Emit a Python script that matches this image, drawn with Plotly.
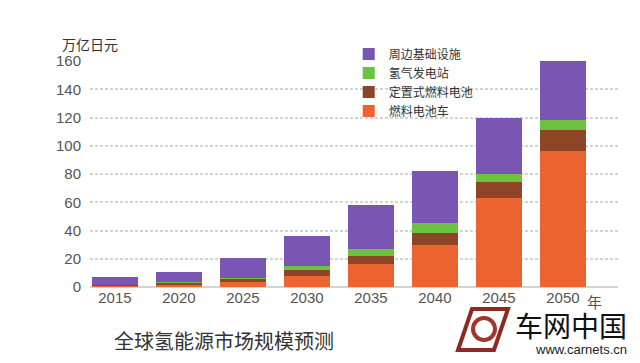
import plotly.graph_objects as go

years = ["2015", "2020", "2025", "2030", "2035", "2040", "2045", "2050"]
fc_vehicle = [1.0, 1.5, 3.5, 8, 16, 30, 63, 96]        # 燃料电池车
stationary_fc = [0.5, 1.5, 2.5, 4, 6, 8, 11, 15]         # 定置式燃料电池
h2_power = [0.2, 0.3, 0.5, 3, 5, 7, 6, 7]               # 氢气发电站
infra = [5.3, 7.5, 14, 21, 31, 37, 40, 42]               # 周边基础设施

series = [
    ("燃料电池车", fc_vehicle, "#EC6430"),
    ("定置式燃料电池", stationary_fc, "#8E4426"),
    ("氢气发电站", h2_power, "#6DC23F"),
    ("周边基础设施", infra, "#7B55B3"),
]

FONT = "Liberation Sans, Noto Sans CJK SC, sans-serif"
CJK = "Noto Sans CJK SC, sans-serif"

fig = go.Figure()
for name, vals, col in series:
    fig.add_trace(go.Bar(x=list(range(len(years))), y=vals, name=name,
                         marker=dict(color=col, line=dict(width=0))))

# page body has an 8px margin, so the figure is offset by 8px right/down
fig.update_layout(
    width=640, height=363,
    margin=dict(l=82, r=30, t=53, b=84, autoexpand=False),
    paper_bgcolor="white", plot_bgcolor="white",
    barmode="stack", bargap=0.28,
    font=dict(family=FONT, color="#444"),
    showlegend=True,
    legend=dict(traceorder="reversed", x=0.49, y=1.095, xanchor="left", yanchor="top",
                font=dict(family=CJK, size=12, color="#333"),
                bgcolor="rgba(0,0,0,0)", tracegroupgap=0, itemwidth=30),
    xaxis=dict(range=[-0.39, 7.86], tickmode="array",
               tickvals=list(range(len(years))), ticktext=years,
               showgrid=False, zeroline=False, showline=False,
               ticks="", tickfont=dict(size=15, color="#555")),
    yaxis=dict(range=[0, 160], tickvals=[0, 20, 40, 60, 80, 100, 120, 140, 160],
               showgrid=True, gridcolor="#d4d4d4", griddash="3px,2px", gridwidth=1.5,
               zeroline=True, zerolinecolor="#d4d4d4", zerolinewidth=1.5,
               ticks="", ticklabelstandoff=8,
               tickfont=dict(size=15, color="#555")),
)

def px(x):
    return (x - 90) / 528
def py(y):
    return (287 - y) / 226

anns = [
    dict(text="万亿日元", x=60, y=44, size=14, color="#333", anchor="left", fam=CJK),
    dict(text="年", x=585, y=301, size=15, color="#555", anchor="left", fam=CJK),
    dict(text="全球氢能源市场规模预测", x=112, y=340, size=20, color="#333", anchor="left", fam=CJK),
    dict(text="车网中国", x=629, y=325, size=28, color="#111", anchor="right", fam=CJK),
    dict(text="www.carnets.cn", x=629, y=349, size=13, color="#222", anchor="right", fam=FONT),
]
for a in anns:
    fig.add_annotation(
        text=a["text"], showarrow=False,
        x=px(a["x"]), y=py(a["y"]),
        xref="paper", yref="paper", xanchor=a["anchor"], yanchor="middle",
        font=dict(family=a["fam"], size=a["size"], color=a["color"]))

# logo approximation (watermark)
fig.add_shape(type="path", xref="paper", yref="paper",
              path=f"M {px(472)},{py(309)} L {px(508)},{py(309)} L {px(494)},{py(350)} L {px(458)},{py(350)} Z",
              line=dict(color="#8B2A22", width=4), fillcolor="rgba(0,0,0,0)")
fig.add_shape(type="circle", xref="paper", yref="paper",
              x0=px(473), x1=px(495), y0=py(340), y1=py(318),
              line=dict(color="#A0362C", width=4), fillcolor="rgba(0,0,0,0)")

fig.write_html("out.html")
